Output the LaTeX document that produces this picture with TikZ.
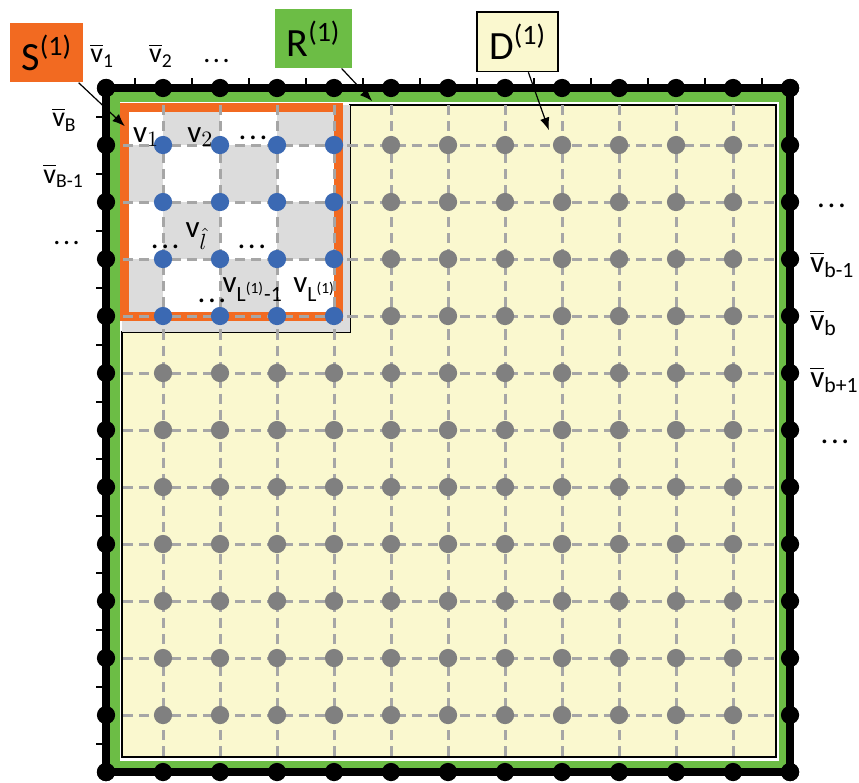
\documentclass[tikz,border=0pt]{standalone}
\usepackage{amsmath}
\usepackage{fontspec}
\setmainfont{Carlito}
\usepackage{tikz}
\usetikzlibrary{arrows.meta}
\definecolor{sorange}{HTML}{F26A21}
\definecolor{rgreen}{HTML}{6CBD45}
\definecolor{dyellow}{HTML}{FAF8CF}
\definecolor{vblue}{HTML}{3B69B3}
\definecolor{vgray}{HTML}{808080}
\definecolor{gridgray}{HTML}{A6A6A6}
\definecolor{cellgray}{HTML}{DCDCDC}
\newcommand{\vbar}[1]{$\overline{\text{v}}_{\text{#1}}$}
\newcommand{\vsub}[1]{$\text{v}_{#1}$}
\newcommand{\wdots}{.\kern1.3pt.\kern1.3pt.}
\tikzset{
  vdot/.style={circle, inner sep=0pt, minimum size=0.32cm},
  lab/.style={anchor=base west, inner sep=0pt, font=\fontsize{14}{17}\selectfont},
  biglab/.style={anchor=base west, inner sep=0pt, font=\fontsize{15.5}{18}\selectfont},
  callout/.style={inner sep=0pt, minimum height=1.04cm, font=\fontsize{20}{24}\selectfont},
  gridline/.style={gridgray, line width=1.5pt, dash pattern=on 5pt off 3pt},
  pointer/.style={-{Latex[length=2.2mm,width=1.7mm]}, line width=0.6pt},
}

\begin{document}
\begin{tikzpicture}
    \def\n{12}
    \useasboundingbox (-1.86,1.544) rectangle (13.21,-12.175);
    % region R: green band inside the border
    \fill[rgreen] (0,0) rectangle (\n,-\n);
    \fill[white] (0.245,-0.245) rectangle (11.8,-11.8);
    % region D
    \coordinate (d1) at (4.28,-0.30);
    \coordinate (d2) at (11.75,-0.30);
    \coordinate (d3) at (11.75,-11.74);
    \coordinate (d4) at (0.28,-11.74);
    \coordinate (d5) at (0.28,-4.28);
    \coordinate (d6) at (4.28,-4.28);
    \filldraw[fill=dyellow, draw=black, line width=0.8pt] (d1) -- (d2) -- (d3) -- (d4) -- (d5) -- (d6) -- cycle;
    % region S: checkerboard
    \fill[cellgray] (4.0,-0.30) rectangle (4.28,-4.28);
    \fill[cellgray] (0.28,-4.0) rectangle (4.28,-4.28);
    \foreach \c/\xa/\xb in {0/0.33/1,1/1/2,2/2/3,3/3/4.07}
      \foreach \r/\ya/\yb in {0/0.34/1,1/1/2,2/2/3,3/3/4}{
        \pgfmathtruncatemacro\odd{mod(\c+\r,2)}
        \ifnum\odd=1 \fill[cellgray] (\xa,-\ya) rectangle (\xb,-\yb); \fi
      }
    \draw[sorange, line width=4.5pt] (0.33,-0.34) rectangle (4.07,-4.0);
    % dashed grid
    \foreach \k in {1,...,11}{
      \draw[gridline] (\k,-0.30) -- (\k,-11.78);
      \draw[gridline] (0.30,-\k) -- (11.78,-\k);
    }
    % inner vertices
    \foreach \i in {1,...,11}
      \foreach \j in {1,...,11}{
        \pgfmathtruncatemacro\ins{(\i<5)&&(\j<5)}
        \ifnum\ins=1
          \node[vdot, fill=vblue] (p-\i-\j) at (\i,-\j) {};
        \else
          \node[vdot, fill=vgray] (p-\i-\j) at (\i,-\j) {};
        \fi
      }
    % outer border with ticks and boundary vertices
    \draw[line width=4pt] (0,0) rectangle (\n,-\n);
    \foreach \k in {0,...,11}{
      \draw[line width=1pt] (\k+0.5,0) -- (\k+0.5,0.18);
      \draw[line width=1pt] (0,-\k-0.5) -- (-0.18,-\k-0.5);
    }
    \foreach \k in {0,...,12}{
      \node[vdot, fill=black] (t-\k) at (\k,0) {};
      \node[vdot, fill=black] (b-\k) at (\k,-\n) {};
      \node[vdot, fill=black] (l-\k) at (0,-\k) {};
      \node[vdot, fill=black] (r-\k) at (\n,-\k) {};
    }
    % boundary labels
    \node[lab] (top1) at (-0.28,0.44) {\vbar{1}};
    \node[lab] (top2) at (0.75,0.44) {\vbar{2}};
    \node[lab] (top3) at (1.70,0.44) {\wdots};
    \node[lab] (left1) at (-0.95,-0.68) {\vbar{B}};
    \node[lab] (left2) at (-1.105,-1.67) {\vbar{B-1}};
    \node[lab] (left3) at (-0.93,-2.75) {\wdots};
    \node[biglab] (right1) at (12.47,-2.1) {\wdots};
    \node[biglab] (right2) at (12.35,-3.23) {\vbar{b-1}};
    \node[biglab] (right3) at (12.35,-4.25) {\vbar{b}};
    \node[biglab] (right4) at (12.35,-5.25) {\vbar{b+1}};
    \node[biglab] (right5) at (12.53,-6.23) {\wdots};
    % labels inside S
    \node[biglab] (s1) at (0.47,-0.95) {\vsub{1}};
    \node[biglab] (s2) at (1.42,-0.95) {\vsub{2}};
    \node[biglab] (s3) at (2.32,-0.91) {\wdots};
    \node[biglab] (s4) at (0.78,-2.82) {\wdots};
    \node[biglab] (s5) at (1.39,-2.63) {\vsub{\hat{l}}};
    \node[biglab] (s6) at (2.30,-2.82) {\wdots};
    \node[biglab] (s7) at (1.60,-3.77) {\wdots};
    \node[biglab] (s8) at (2.04,-3.58) {\vsub{\text{L}^{\text{(1)}}\text{-1}}};
    \node[biglab] (s9) at (3.28,-3.58) {\vsub{\text{L}^{\text{(1)}}}};
    % callouts
    \node[callout, fill=sorange, minimum width=1.28cm] (Slab) at (-1.04,0.62) {S$^{\text{(1)}}$};
    \node[callout, fill=rgreen, minimum width=1.35cm] (Rlab) at (3.64,0.87) {R$^{\text{(1)}}$};
    \node[callout, fill=dyellow, draw=black, line width=0.8pt, minimum width=1.42cm] (Dlab) at (7.22,0.81) {D$^{\text{(1)}}$};
    \coordinate (Stip) at (0.33,-0.67);
    \coordinate (Rtip) at (4.67,-0.23);
    \coordinate (Dtip) at (7.77,-0.74);
    \draw[pointer] (Slab) -- (Stip);
    \draw[pointer] (Rlab) -- (Rtip);
    \draw[pointer] (Dlab) -- (Dtip);
\end{tikzpicture}
\end{document}
